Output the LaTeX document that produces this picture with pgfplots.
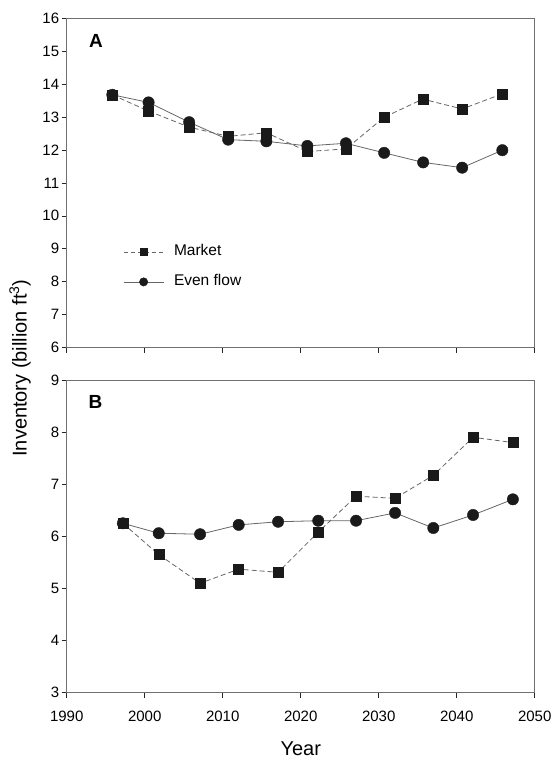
\documentclass[border=0pt]{standalone}
\usepackage{pgfplots}
\pgfplotsset{compat=1.18}
\usepackage{fontspec}
\setmainfont{Liberation Sans}
\definecolor{linegray}{HTML}{666666}
\definecolor{mk}{HTML}{1A1A1A}
\definecolor{framegray}{HTML}{707070}

\pgfplotsset{
  myax/.style={
    scale only axis, width=468pt,
    xmin=1990, xmax=2050, xtick={1990,2000,...,2050},
    tick align=outside, xtick pos=left, ytick pos=left,
    major tick length=5pt,
    tick style={black!85, line width=0.6pt},
    axis line style={framegray, line width=0.9pt},
    /pgf/number format/assume math mode=true,
    /pgf/number format/1000 sep={},
    tick label style={font=\fontsize{15}{16}\selectfont},
    yticklabel style={xshift=1pt},
    xticklabel style={yshift=-10pt},
    clip=false,
  },
  market/.style={draw=linegray, line width=0.8pt, dash pattern=on 5pt off 3pt,
    mark=square*, mark size=5pt, mark options={solid, fill=mk, draw=mk, line width=0.4pt},
    legend image code/.code={\draw[mark repeat=2, mark phase=2, ##1, dash pattern=on 4pt off 3pt, mark size=3.3pt]
      plot coordinates {(0pt,0pt) (20pt,0pt) (40pt,0pt)};}},
  evenflow/.style={draw=linegray, line width=0.8pt, solid,
    mark=*, mark size=5.7pt, mark options={solid, fill=mk, draw=mk, line width=0.4pt},
    legend image code/.code={\draw[mark repeat=2, mark phase=2, ##1, mark size=4.2pt]
      plot coordinates {(0pt,0pt) (20pt,0pt) (40pt,0pt)};}},
}

\begin{document}
\begin{tikzpicture}[x=1pt,y=1pt]
\path (0,0) rectangle (551,759);

% Panel A
\begin{axis}[myax, at={(66.7pt,411.3pt)}, anchor=south west,
  height=329.7pt, ymin=6, ymax=16, ytick={6,7,...,16},
  xticklabels={},
  legend style={at={(axis cs:1997.22,8.45)}, anchor=west, draw=none, fill=none,
    inner sep=0pt, row sep=16pt, column sep=10pt,
    font=\fontsize{15.5}{18}\selectfont,
    nodes={inner sep=0pt, text height=11pt, text depth=3pt}},
  legend cell align=left]
\addplot[market] coordinates {
 (1995.85,13.67) (2000.45,13.18) (2005.7,12.69) (2010.7,12.41) (2015.6,12.52)
 (2020.85,11.95) (2025.8,12.03) (2030.7,12.99) (2035.65,13.54) (2040.7,13.24) (2045.85,13.70)};
\addlegendentry{Market}
\addplot[evenflow] coordinates {
 (1995.85,13.67) (2000.5,13.44) (2005.7,12.84) (2010.7,12.31) (2015.6,12.26)
 (2020.85,12.12) (2025.8,12.20) (2030.7,11.91) (2035.7,11.62) (2040.7,11.46) (2045.85,11.99)};
\addlegendentry{Even flow}
\addplot[market, forget plot] coordinates {(1995.85,13.67)};
\node[font=\bfseries\fontsize{19}{22}\selectfont] at (axis cs:1993.76,15.30) {A};
\end{axis}

% Panel B
\begin{axis}[myax, at={(66.7pt,66.3pt)}, anchor=south west,
  height=312.7pt, ymin=3, ymax=9, ytick={3,4,...,9}]
\addplot[market] coordinates {
 (1997.2,6.25) (2001.8,5.65) (2007.1,5.10) (2012.05,5.37) (2017.1,5.31)
 (2022.25,6.08) (2027.1,6.77) (2032.1,6.73) (2037.0,7.17) (2042.1,7.90) (2047.2,7.80)};
\addplot[evenflow] coordinates {
 (1997.2,6.25) (2001.8,6.06) (2007.1,6.04) (2012.05,6.22) (2017.1,6.28)
 (2022.25,6.30) (2027.1,6.30) (2032.1,6.45) (2037.0,6.16) (2042.1,6.41) (2047.2,6.71)};
\addplot[market, forget plot] coordinates {(1997.2,6.25)};
\node[font=\bfseries\fontsize{19}{22}\selectfont] at (axis cs:1993.7,8.58) {B};
\end{axis}

\node[rotate=90, font=\fontsize{20}{24}\selectfont] at (20pt,391pt) {Inventory (billion ft\textsuperscript{3})};
\node[anchor=base, font=\fontsize{20}{24}\selectfont] at (300.7pt,4pt) {Year};
\end{tikzpicture}
\end{document}
